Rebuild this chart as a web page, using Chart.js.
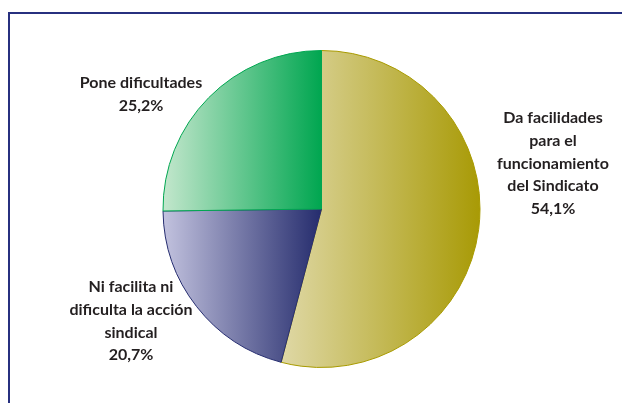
<!DOCTYPE html>
<html lang="es">
<head>
<meta charset="UTF-8">
<title>Actitud de la empresa</title>
<script src="https://cdn.jsdelivr.net/npm/chart.js"></script>
<style>
  html, body { margin: 0; padding: 0; background: #fff; overflow: hidden; }
  #wrap { position: relative; width: 622px; height: 403px; }
  #frame { position: absolute; left: 8px; top: 12px; width: 700px; height: 500px;
           border: 2px solid #27307f; box-sizing: border-box; }
  canvas { position: absolute; left: 0; top: 0; }
</style>
</head>
<body>
<div id="wrap">
  <div id="frame"></div>
  <canvas id="pie" width="622" height="403"></canvas>
</div>
<script>
// data
const categories = [
  ['Da facilidades', 'para el', 'funcionamiento', 'del Sindicato'],
  ['Ni facilita ni', 'dificulta la acción', 'sindical'],
  ['Pone dificultades']
];
const values = [54.1, 20.7, 25.2];
const valueLabels = ['54,1%', '20,7%', '25,2%'];

// colours: light (left) -> dark (right)
const lightColors = ['#dfd8a6', '#c3c3df', '#c4e7cd'];
const darkColors  = ['#a89a05', '#252c6d', '#00a650'];
const edgeColors  = ['#a89a00', '#262d70', '#00a650'];

// label anchor (centre of text block, first line)
const labelPos = [[553, 118], [131, 287], [141, 83]];

function sliceGradient(context) {
  const chart = context.chart;
  const area = chart.chartArea;
  const i = context.dataIndex;
  if (!area) return darkColors[i];
  const cx = (area.left + area.right) / 2;
  const r = Math.min(area.width, area.height) / 2;
  const total = values.reduce((a, b) => a + b, 0);
  let before = 0;
  for (let k = 0; k < i; k++) before += values[k];
  const start = -Math.PI / 2 + 2 * Math.PI * before / total;
  const end = start + 2 * Math.PI * values[i] / total;
  let minX = cx, maxX = cx;
  for (let s = 0; s <= 60; s++) {
    const a = start + (end - start) * s / 60;
    const x = cx + r * Math.cos(a);
    minX = Math.min(minX, x);
    maxX = Math.max(maxX, x);
  }
  const g = chart.ctx.createLinearGradient(minX, 0, maxX, 0);
  g.addColorStop(0, lightColors[i]);
  g.addColorStop(1, darkColors[i]);
  return g;
}

const labelPlugin = {
  id: 'sliceLabels',
  afterDraw(chart) {
    const ctx = chart.ctx;
    ctx.save();
    ctx.fillStyle = '#231f20';
    ctx.font = 'bold 16px Lato, "Open Sans", sans-serif';
    ctx.textAlign = 'center';
    ctx.textBaseline = 'middle';
    categories.forEach((lines, i) => {
      const [x, y] = labelPos[i];
      const all = lines.concat([valueLabels[i]]);
      all.forEach((t, j) => ctx.fillText(t, x, y + j * 22.7));
    });
    ctx.restore();
  }
};

new Chart(document.getElementById('pie').getContext('2d'), {
  type: 'pie',
  data: {
    labels: categories.map(c => c.join(' ')),
    datasets: [{
      data: values,
      backgroundColor: sliceGradient,
      borderColor: edgeColors,
      borderWidth: 1
    }]
  },
  options: {
    responsive: false,
    animation: false,
    layout: { padding: { left: 162, right: 141, top: 50, bottom: 35 } },
    plugins: {
      legend: { display: false },
      tooltip: { enabled: false }
    }
  },
  plugins: [labelPlugin]
});
</script>
</body>
</html>
